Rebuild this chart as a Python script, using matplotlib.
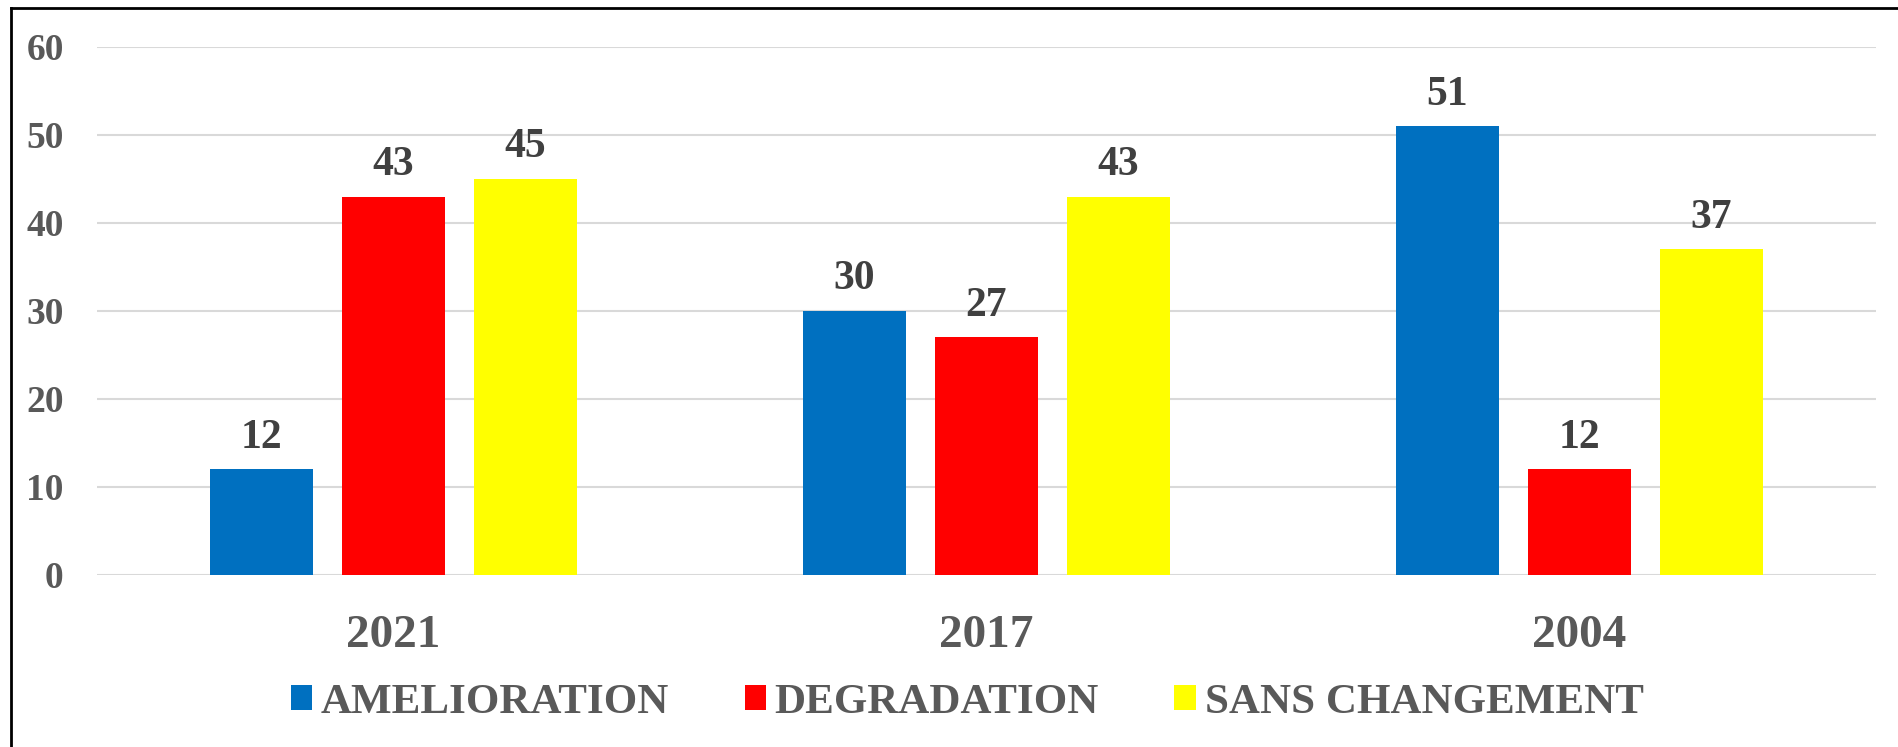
import numpy as np
import matplotlib.pyplot as plt
from matplotlib.patches import Patch
from matplotlib.lines import Line2D

# Données
annees = ['2021', '2017', '2004']
series = ['AMELIORATION', 'DEGRADATION', 'SANS CHANGEMENT']
amelioration = [12, 30, 51]
degradation = [43, 27, 12]
sans_changement = [45, 43, 37]
couleurs = ['#0070C0', '#FF0000', '#FFFF00']

plt.rcParams['font.family'] = 'Liberation Serif'
plt.rcParams['font.weight'] = 'bold'

fig = plt.figure(figsize=(18.98, 7.47), dpi=100)
ax = fig.add_axes([0.0511, 0.2303, 0.9373, 0.7068])

x = np.arange(len(annees))
largeur = 0.174
pas = 0.2226
valeurs = [amelioration, degradation, sans_changement]

for i, (vals, coul) in enumerate(zip(valeurs, couleurs)):
    barres = ax.bar(x + (i - 1) * pas, vals, width=largeur, color=coul, zorder=3)
    for b, v in zip(barres, vals):
        ax.annotate(str(v), (b.get_x() + b.get_width() / 2, v),
                    xytext=(0, 9), textcoords='offset points',
                    ha='center', va='bottom', fontsize=30,
                    fontweight='bold', color='#404040')

ax.set_xlim(-0.5, 2.5)
ax.set_ylim(0, 60)
ax.set_yticks(range(0, 61, 10))
ax.set_xticks(x)
ax.set_xticklabels(annees)
ax.tick_params(axis='y', length=0, pad=24, labelsize=27, labelcolor='#595959')
ax.tick_params(axis='x', length=0, pad=29, labelsize=34, labelcolor='#595959')
ax.grid(axis='y', color='#D9D9D9', linewidth=1.5, zorder=0)
for s in ax.spines.values():
    s.set_visible(False)

# Légende
poignees = [Patch(facecolor=c, edgecolor='none') for c in couleurs]
fig.legend(poignees, series, loc='center', bbox_to_anchor=(0.5095, 0.0589),
           ncol=3, frameon=False, handlelength=0.5, handleheight=0.53,
           handletextpad=0.2, columnspacing=1.75,
           prop={'family': 'Liberation Serif', 'weight': 'bold', 'size': 31},
           labelcolor='#595959')

# Cadre du graphique
fig.add_artist(Line2D([0.0058, 0.0058], [0, 0.9893], transform=fig.transFigure,
                      color='black', linewidth=2))
fig.add_artist(Line2D([0.0058, 1], [0.9893, 0.9893], transform=fig.transFigure,
                      color='black', linewidth=2))

fig.savefig('out.png', dpi=100, facecolor='white')
